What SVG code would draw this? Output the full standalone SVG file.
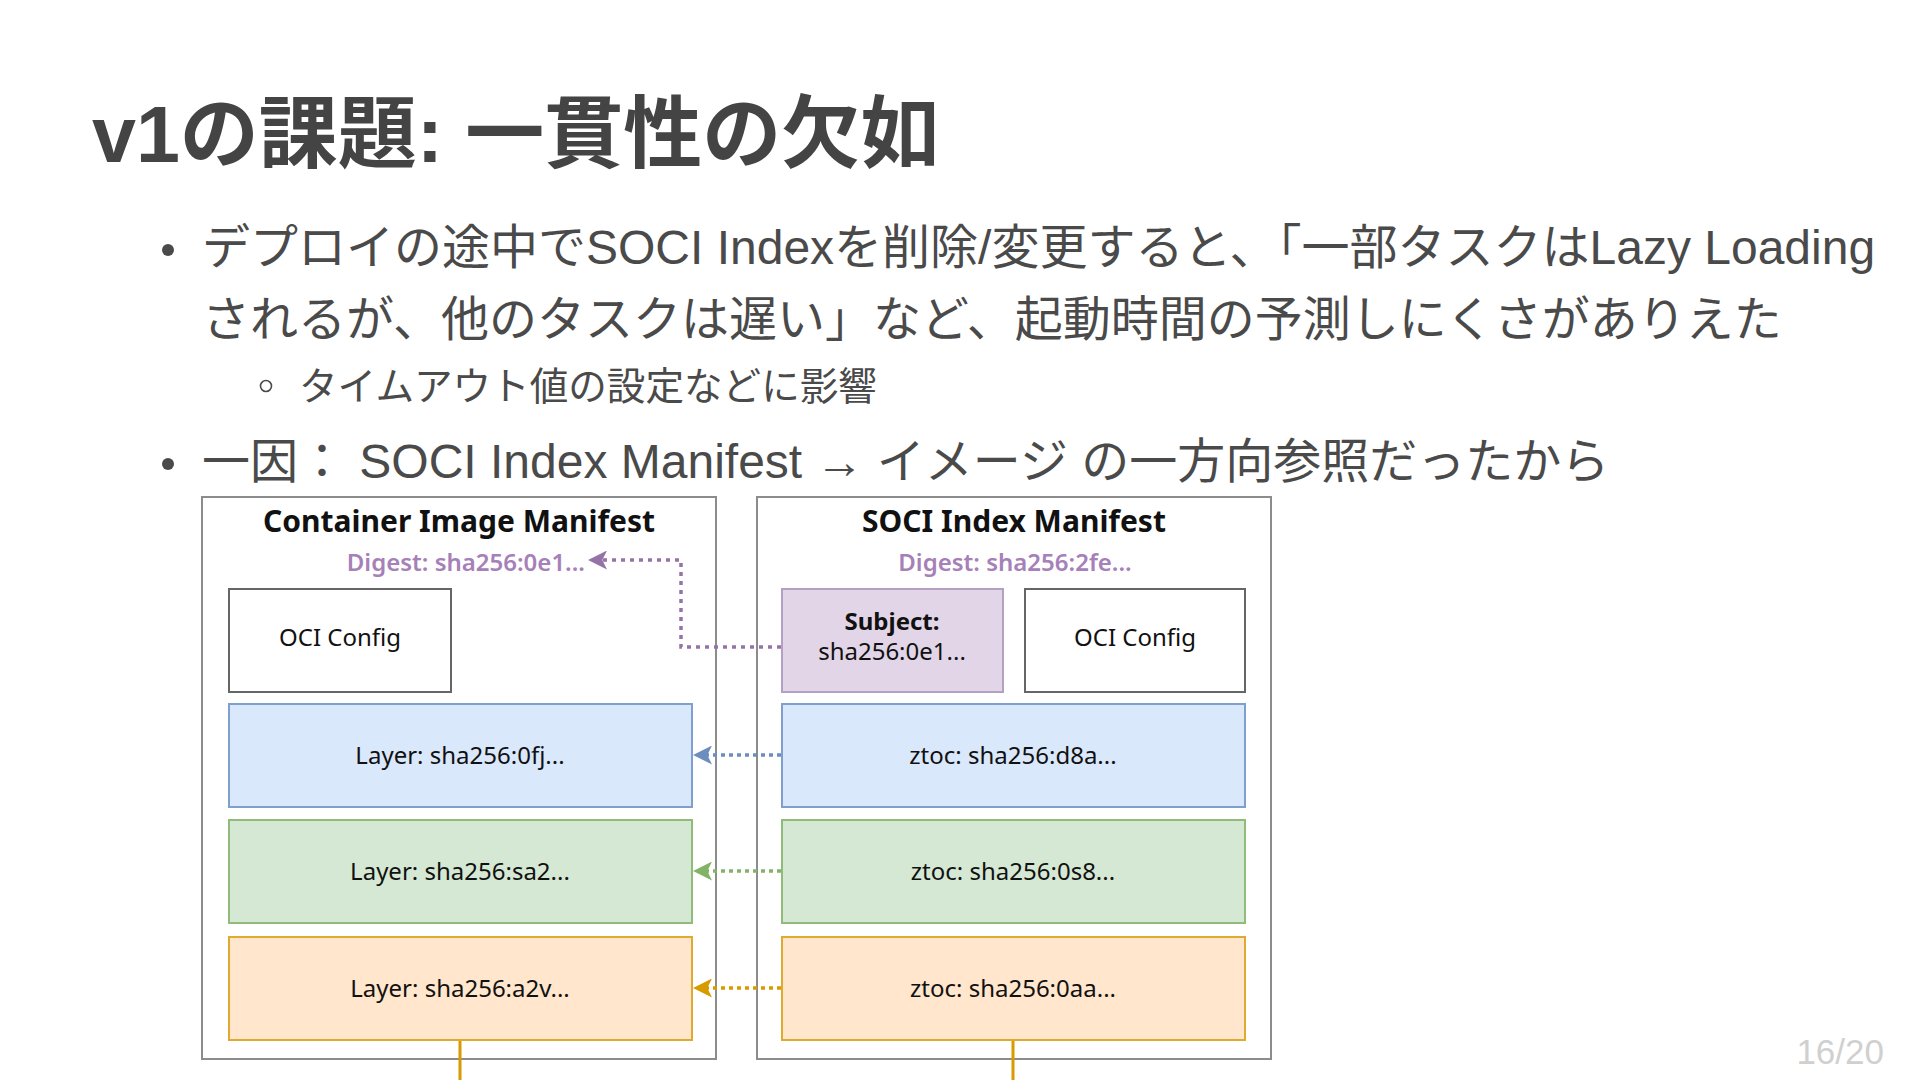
<svg xmlns="http://www.w3.org/2000/svg" width="1920" height="1080" viewBox="0 0 1920 1080">
  <style>
    .title { font-family: "Liberation Sans", "Noto Sans CJK JP", sans-serif; font-weight: bold; font-size: 79px; fill: #444444; }
    .body { font-family: "Liberation Sans", "Noto Sans CJK JP", sans-serif; font-size: 48px; fill: #4a4a4a; }
    .sub { font-family: "Liberation Sans", "Noto Sans CJK JP", sans-serif; font-size: 38.6px; fill: #4a4a4a; }
    .page { font-family: "Liberation Sans", sans-serif; font-size: 35px; fill: #d0d0d0; }
    .dg { font-family: "Noto Sans", "Open Sans", sans-serif; font-size: 24px; fill: #111111; }
    .dgt { font-family: "Noto Sans", "Open Sans", sans-serif; font-size: 30px; font-weight: bold; fill: #111111; }
    .digest { font-family: "Noto Sans", "Open Sans", sans-serif; font-size: 24px; font-weight: 600; fill: #a680b8; }
    .outer { fill: #ffffff; stroke: #8c8c8c; stroke-width: 2; }
    .plain { fill: #ffffff; stroke: #666666; stroke-width: 2; }
    .purple { fill: #e1d5e7; stroke: #b3a0c2; stroke-width: 2; }
    .blue { fill: #dae8fc; stroke: #7f9fcf; stroke-width: 2; }
    .green { fill: #d5e8d4; stroke: #8fbc7a; stroke-width: 2; }
    .orange { fill: #ffe6cc; stroke: #e0aa30; stroke-width: 2; }
    .conn { fill: none; stroke-width: 3.5; }
  </style>
  <defs>
    <marker id="ahPurple" viewBox="0 0 20 20" refX="19" refY="10" markerWidth="19" markerHeight="19" markerUnits="userSpaceOnUse" orient="auto">
      <path d="M0,0 L20,10 L0,20 L5,10 Z" fill="#9673a6"/>
    </marker>
    <marker id="ahBlue" viewBox="0 0 20 20" refX="19" refY="10" markerWidth="19" markerHeight="19" markerUnits="userSpaceOnUse" orient="auto">
      <path d="M0,0 L20,10 L0,20 L5,10 Z" fill="#6c8ebf"/>
    </marker>
    <marker id="ahGreen" viewBox="0 0 20 20" refX="19" refY="10" markerWidth="19" markerHeight="19" markerUnits="userSpaceOnUse" orient="auto">
      <path d="M0,0 L20,10 L0,20 L5,10 Z" fill="#82b366"/>
    </marker>
    <marker id="ahOrange" viewBox="0 0 20 20" refX="19" refY="10" markerWidth="19" markerHeight="19" markerUnits="userSpaceOnUse" orient="auto">
      <path d="M0,0 L20,10 L0,20 L5,10 Z" fill="#d79b00"/>
    </marker>
  </defs>

  <rect x="0" y="0" width="1920" height="1080" fill="#ffffff"/>

  <g id="slide-text">
    <text class="title" x="92" y="162">v1の課題: 一貫性の欠如</text>
    <circle cx="168" cy="250" r="6" fill="#4a4a4a"/>
    <text class="body" x="202" y="264">デプロイの途中でSOCI Indexを削除/変更すると、「一部タスクはLazy Loading</text>
    <text class="body" x="202" y="336">されるが、他のタスクは遅い」など、起動時間の予測しにくさがありえた</text>
    <circle cx="266" cy="386" r="5.5" fill="none" stroke="#4a4a4a" stroke-width="1.6"/>
    <text class="sub" x="299" y="400">タイムアウト値の設定などに影響</text>
    <circle cx="168" cy="464" r="6" fill="#4a4a4a"/>
    <text class="body" x="202" y="478">一因： SOCI Index Manifest → イメージ の一方向参照だったから</text>
    <text class="page" x="1884" y="1064" text-anchor="end">16/20</text>
  </g>

  <g id="container-image-manifest">
    <rect class="outer" x="202" y="497" width="514" height="562"/>
    <text class="dgt" x="459" y="532" text-anchor="middle">Container Image Manifest</text>
    <text class="digest" x="585" y="571" text-anchor="end">Digest: sha256:0e1...</text>
  </g>
  <g id="soci-index-manifest">
    <rect class="outer" x="757" y="497" width="514" height="562"/>
    <text class="dgt" x="1014" y="532" text-anchor="middle">SOCI Index Manifest</text>
    <text class="digest" x="1015" y="571" text-anchor="middle">Digest: sha256:2fe...</text>
  </g>

  <g id="oci-config-left">
    <rect class="plain" x="229" y="589" width="222" height="103"/>
    <text class="dg" x="340" y="646" text-anchor="middle">OCI Config</text>
  </g>
  <g id="layer-0fj">
    <rect class="blue" x="229" y="704" width="463" height="103"/>
    <text class="dg" x="460" y="764" text-anchor="middle">Layer: sha256:0fj...</text>
  </g>
  <g id="layer-sa2">
    <rect class="green" x="229" y="820" width="463" height="103"/>
    <text class="dg" x="460" y="880" text-anchor="middle">Layer: sha256:sa2...</text>
  </g>
  <g id="layer-a2v">
    <rect class="orange" x="229" y="937" width="463" height="103"/>
    <text class="dg" x="460" y="997" text-anchor="middle">Layer: sha256:a2v...</text>
  </g>

  <g id="subject">
    <rect class="purple" x="782" y="589" width="221" height="103"/>
    <text class="dg" x="892" y="630" text-anchor="middle" font-weight="bold">Subject:</text>
    <text class="dg" x="892" y="660" text-anchor="middle">sha256:0e1...</text>
  </g>
  <g id="oci-config-right">
    <rect class="plain" x="1025" y="589" width="220" height="103"/>
    <text class="dg" x="1135" y="646" text-anchor="middle">OCI Config</text>
  </g>
  <g id="ztoc-d8a">
    <rect class="blue" x="782" y="704" width="463" height="103"/>
    <text class="dg" x="1013" y="764" text-anchor="middle">ztoc: sha256:d8a...</text>
  </g>
  <g id="ztoc-0s8">
    <rect class="green" x="782" y="820" width="463" height="103"/>
    <text class="dg" x="1013" y="880" text-anchor="middle">ztoc: sha256:0s8...</text>
  </g>
  <g id="ztoc-0aa">
    <rect class="orange" x="782" y="937" width="463" height="103"/>
    <text class="dg" x="1013" y="997" text-anchor="middle">ztoc: sha256:0aa...</text>
  </g>

  <g id="connectors">
    <path class="conn" d="M781,647 L681,647 L681,560 L589,560" stroke="#9673a6" stroke-dasharray="4 5" marker-end="url(#ahPurple)"/>
    <path class="conn" d="M781,755 L694,755" stroke="#6c8ebf" stroke-dasharray="4 4" marker-end="url(#ahBlue)"/>
    <path class="conn" d="M781,871 L694,871" stroke="#82b366" stroke-dasharray="4 4" marker-end="url(#ahGreen)"/>
    <path class="conn" d="M781,988 L694,988" stroke="#d79b00" stroke-dasharray="4 4" marker-end="url(#ahOrange)"/>
    <line x1="460" y1="1041" x2="460" y2="1080" stroke="#d79b00" stroke-width="3"/>
    <line x1="1013" y1="1041" x2="1013" y2="1080" stroke="#d79b00" stroke-width="3"/>
  </g>
</svg>
